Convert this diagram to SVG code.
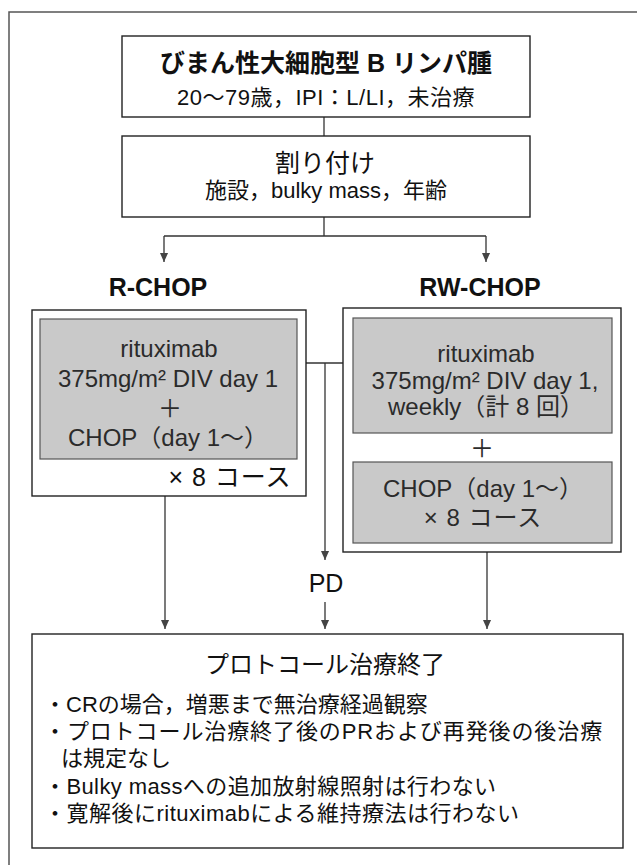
<svg xmlns="http://www.w3.org/2000/svg" width="637" height="865" viewBox="0 0 637 865">
<defs>
<marker id="arr" viewBox="0 0 10 10" refX="10" refY="5" markerWidth="9" markerHeight="9" markerUnits="userSpaceOnUse" orient="auto">
<path d="M0,0.5 L10,5 L0,9.5 Z" fill="#444"/>
</marker>
</defs>
<style>
.box{fill:#fff;stroke:#222;stroke-width:1.4}
.gray{fill:#c9c9c9;stroke:#555;stroke-width:1.2}
.ln{fill:none;stroke:#333;stroke-width:1.3}
.t{font-family:"Liberation Sans","Noto Sans CJK JP",sans-serif;fill:#111;text-anchor:middle;dominant-baseline:central}
.g{fill:#2b2b2b}
.b{font-weight:bold}
</style>
<rect width="637" height="865" fill="#fff"/>
<path d="M9,865 V12 H637" fill="none" stroke="#555" stroke-width="1.5"/>

<g id="connectors">
<path class="ln" d="M324,117 V136"/>
<path class="ln" d="M324,217 V236 M164,236 H486"/>
<path class="ln" d="M164,236 V262" marker-end="url(#arr)"/>
<path class="ln" d="M486,236 V262" marker-end="url(#arr)"/>
<path class="ln" d="M306,363 H343"/>
<path class="ln" d="M325,363 V560" marker-end="url(#arr)"/>
<path class="ln" d="M325,602 V629" marker-end="url(#arr)"/>
<path class="ln" d="M165,496 V629" marker-end="url(#arr)"/>
<path class="ln" d="M487,552 V629" marker-end="url(#arr)"/>
<text class="t" x="326" y="583" font-size="25">PD</text>
</g>

<g id="dlbcl">
<rect class="box" x="122" y="36" width="408" height="81"/>
<text class="t b" x="326" y="63" font-size="25">びまん性大細胞型 B リンパ腫</text>
<text class="t" x="326" y="97" font-size="22" letter-spacing="0.5">20〜79歳，IPI：L/LI，未治療</text>
</g>

<g id="randomization">
<rect class="box" x="122" y="136" width="408" height="81"/>
<text class="t" x="325" y="163" font-size="25">割り付け</text>
<text class="t" x="326" y="190" font-size="22">施設，bulky mass，年齢</text>
</g>

<g id="rchop">
<text class="t b" x="158" y="287" font-size="25">R-CHOP</text>
<rect class="box" x="32" y="310" width="274" height="186"/>
<rect class="gray" x="40" y="319" width="257" height="140"/>
<text class="t g" x="169" y="348" font-size="24">rituximab</text>
<text class="t g" x="168" y="378" font-size="24">375mg/m² DIV day 1</text>
<text class="t g" x="170" y="408" font-size="24">＋</text>
<text class="t g" x="168" y="437" font-size="24">CHOP（day 1〜）</text>
<text class="t" x="230" y="477" font-size="25" font-family="Noto Sans CJK JP" letter-spacing="1">× 8 コース</text>
</g>

<g id="rwchop">
<text class="t b" x="480" y="287" font-size="25">RW-CHOP</text>
<rect class="box" x="343" y="308" width="278" height="244"/>
<rect class="gray" x="353" y="318" width="259" height="115"/>
<text class="t g" x="486" y="353" font-size="24">rituximab</text>
<text class="t g" x="485" y="380" font-size="24">375mg/m² DIV day 1,</text>
<text class="t g" x="486" y="406" font-size="24">weekly（計 8 回）</text>
<text class="t g" x="482" y="448" font-size="24">＋</text>
<rect class="gray" x="353" y="462" width="259" height="81"/>
<text class="t g" x="483" y="488" font-size="24">CHOP（day 1〜）</text>
<text class="t g" x="483" y="517" font-size="24" font-family="Noto Sans CJK JP" letter-spacing="1">× 8 コース</text>
</g>

<g id="end">
<rect class="box" x="32" y="634" width="591" height="214"/>
<text class="t" x="325" y="664" font-size="24">プロトコール治療終了</text>
<g class="t" font-size="22" style="text-anchor:start">
<text x="44" y="704">・CRの場合，増悪まで無治療経過観察</text>
<text x="44" y="731" letter-spacing="0.9">・プロトコール治療終了後のPRおよび再発後の後治療</text>
<text x="61" y="758">は規定なし</text>
<text x="44" y="786" letter-spacing="0.4">・Bulky massへの追加放射線照射は行わない</text>
<text x="44" y="813" letter-spacing="0.5">・寛解後にrituximabによる維持療法は行わない</text>
</g>
</g>
</svg>
